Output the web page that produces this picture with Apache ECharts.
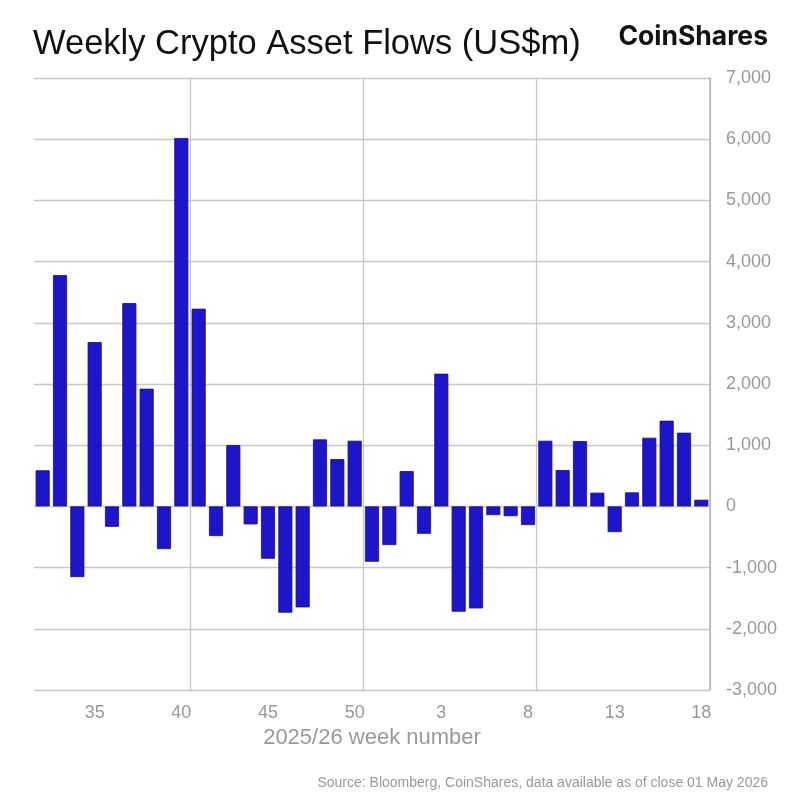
<!DOCTYPE html>
<html>
<head>
<meta charset="utf-8">
<script src="https://cdn.jsdelivr.net/npm/echarts@6/dist/echarts.min.js"></script>
<style>
html,body{margin:0;padding:0;background:#fff;}
#c{width:799px;height:800px;}
</style>
</head>
<body>
<div id="c"></div>
<script>
const weeks = [32,33,34,35,36,37,38,39,40,41,42,43,44,45,46,47,48,49,50,51,52,1,2,3,4,5,6,7,8,9,10,11,12,13,14,15,16,17,18];
const flows = [590,3780,-1155,2685,-333,3322,1923,-697,6020,3230,-485,1002,-294,-855,-1737,-1650,1095,773,1073,-904,-632,577,-447,2168,-1721,-1667,-142,-160,-305,1073,593,1067,224,-420,229,1122,1400,1204,109];
const yTicks = [-3000,7000,1000];
const titleText = 'Weekly Crypto Asset Flows (US$m)';
const brandText = 'CoinShares';
const xName = '2025/26 week number';
const sourceText = 'Source: Bloomberg, CoinShares, data available as of close 01 May 2026';

const chart = echarts.init(document.getElementById('c'));
chart.setOption({
  animation: false,
  backgroundColor: '#ffffff',
  title: [
    {text: titleText, left: 28, top: 22, textStyle: {fontFamily: 'Liberation Sans, Arial, sans-serif', fontSize: 34.5, fontWeight: 'normal', color: '#111'}},
    {text: brandText, right: 26, top: 19, textStyle: {fontFamily: 'Inter, Roboto, sans-serif', fontSize: 26.5, fontWeight: 'bold', color: '#111', letterSpacing: -0.5}},
    {text: sourceText, right: 26, top: 771, textStyle: {fontFamily: 'Liberation Sans Narrow, Arial Narrow, sans-serif', fontSize: 14, fontWeight: 'normal', color: '#999'}}
  ],
  grid: {left: 34, right: 89, top: 78, bottom: 110, containLabel: false},
  xAxis: {
    type: 'category',
    data: weeks.map(String),
    name: xName,
    nameLocation: 'middle',
    nameGap: 37,
    nameTextStyle: {fontFamily: 'Liberation Sans Narrow, Arial Narrow, sans-serif', fontSize: 22, color: '#999'},
    axisLine: {show: false},
    axisTick: {show: false},
    axisLabel: {
      interval: (i) => (i - 3) % 5 === 0,
      margin: 14,
      fontFamily: 'Liberation Sans Narrow, Arial Narrow, sans-serif',
      fontSize: 18, color: '#999'
    },
    splitLine: {show: true, interval: (i) => i % 10 === 9, lineStyle: {color: '#c8c8c8', width: 1.3}}
  },
  yAxis: {
    type: 'value',
    position: 'right',
    min: yTicks[0], max: yTicks[1], interval: yTicks[2],
    axisLine: {show: true, lineStyle: {color: '#b4b4b4', width: 1.5}},
    axisTick: {show: false},
    axisLabel: {
      margin: 16,
      fontFamily: 'Liberation Sans Narrow, Arial Narrow, sans-serif',
      fontSize: 18, color: '#999',
      formatter: (v) => v.toLocaleString('en-US')
    },
    splitLine: {show: true, lineStyle: {color: '#c8c8c8', width: 1.3}}
  },
  series: [{
    type: 'bar',
    data: flows,
    barCategoryGap: '19%',
    itemStyle: {color: '#1c15c9', borderColor: '#14108a', borderWidth: 0.8}
  }]
});
</script>
</body>
</html>
